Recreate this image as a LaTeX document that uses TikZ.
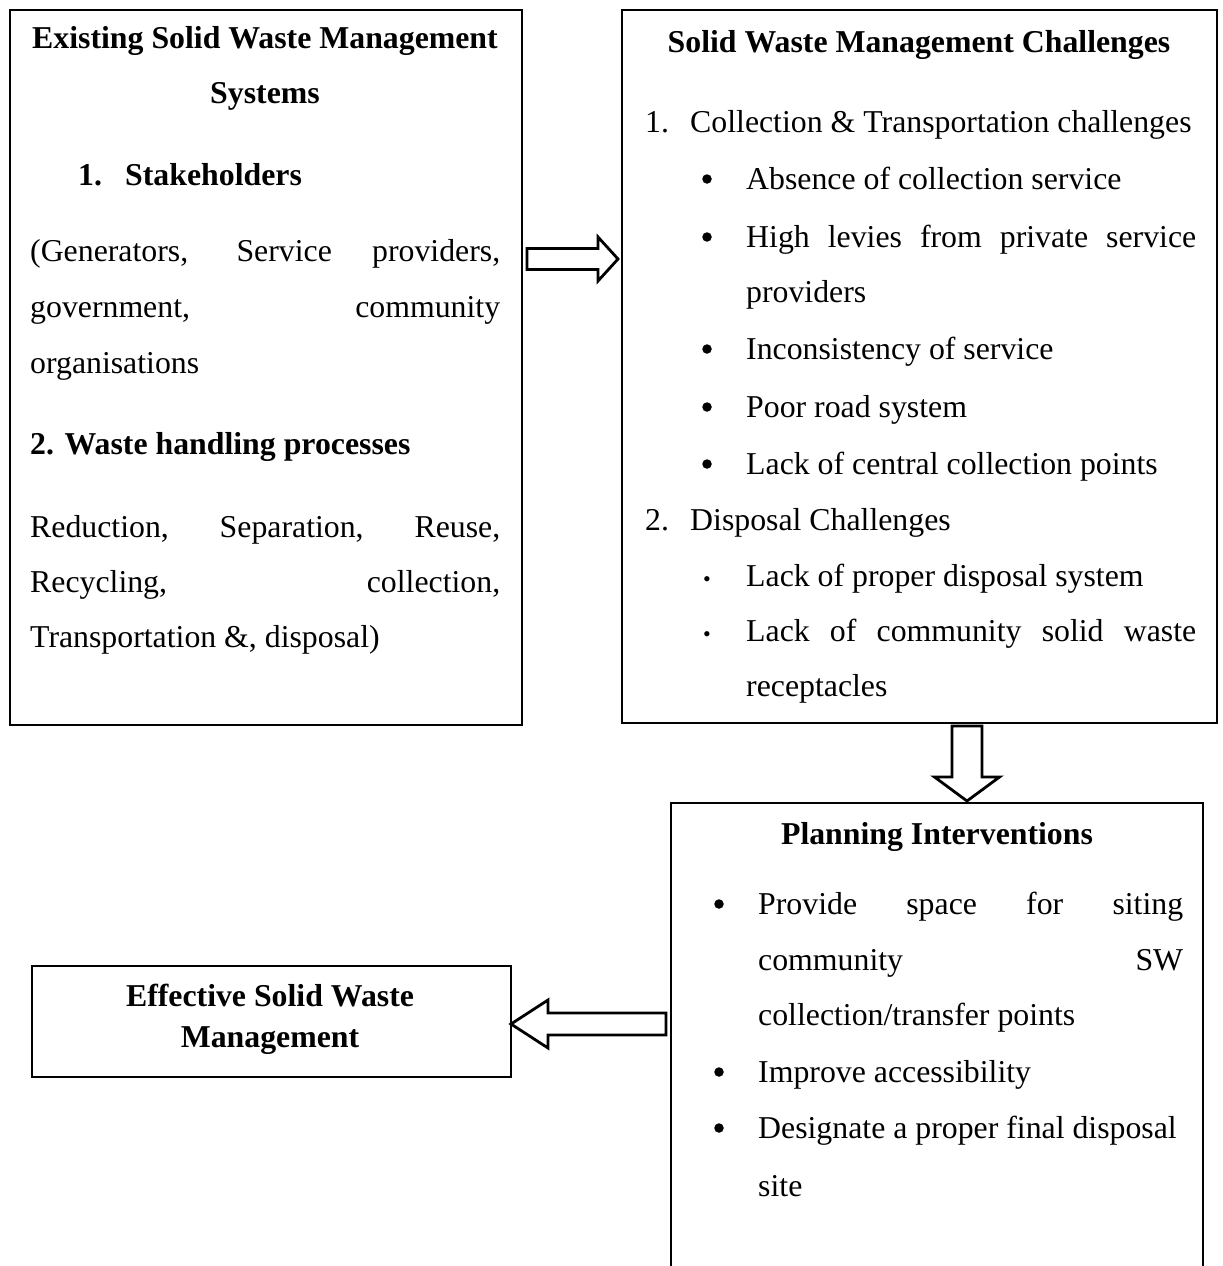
\documentclass[tikz,border=0pt]{standalone}
\usepackage{fontspec}
\setmainfont{Liberation Serif}
\begin{document}
\begin{tikzpicture}[x=1pt,y=-1pt,
  font=\fontsize{31.8}{56}\selectfont,
  box/.style={draw, line width=2pt, inner sep=0pt, anchor=north west},
  txt/.style={anchor=base west, inner sep=0pt},
  ctr/.style={anchor=base, inner sep=0pt},
  bul/.style={anchor=base, inner sep=0pt},
  dot/.style={circle, fill, inner sep=0pt, minimum size=9.5pt},
  hd/.style={font=\fontsize{31.8}{56}\selectfont\bfseries},
  blockarrow/.style={draw, line width=2.8pt, fill=white, line join=miter}]
\useasboundingbox (0,0) rectangle (1223,1266);
\newcommand{\jline}[2]{\makebox[#1][s]{#2}}
\newcommand{\smallbul}{{\fontsize{22}{22}\selectfont\textbullet}}

% boxes
\node[box, minimum width=512pt, minimum height=715pt] (exist) at (9,9) {};
\node[box, minimum width=595pt, minimum height=713pt] (chall) at (621,9) {};
\node[box, minimum width=479pt, minimum height=111pt] (eff) at (31,965) {};
\node[inner sep=0pt, anchor=north west, minimum width=532pt, minimum height=480pt] (plan) at (671,803) {};
\draw[line width=2pt] (plan.south west) -- (plan.north west) -- (plan.north east) -- (plan.south east);

% box 1 text
\node[ctr, hd] (e1) at (265,48) {Existing Solid Waste Management};
\node[ctr, hd] (e2) at (265,103) {Systems};
\node[txt, hd] (e3n) at (78,185) {1.};
\node[txt, hd] (e3) at (125,185) {Stakeholders};
\node[txt] (e4) at (30,261) {\jline{470pt}{(Generators, Service providers,}};
\node[txt] (e5) at (30,317) {\jline{470pt}{government, community}};
\node[txt] (e6) at (30,373) {organisations};
\node[txt, hd] (e7) at (30,454) {2. Waste handling processes};
\node[txt] (e8) at (30,537) {\jline{470pt}{Reduction, Separation, Reuse,}};
\node[txt] (e9) at (30,592) {\jline{470pt}{Recycling, collection,}};
\node[txt] (e10) at (30,647) {Transportation \&, disposal)};

% box 2 text
\node[ctr, hd] (c0) at (919,52) {Solid Waste Management Challenges};
\node[txt] (c1n) at (645,132) {1.};
\node[txt] (c1) at (690,132) {Collection \& Transportation challenges};
\node[dot] (cb1) at (707,179) {};
\node[txt] (c2) at (746,189) {Absence of collection service};
\node[dot] (cb2) at (707,237) {};
\node[txt] (c3) at (746,247) {\jline{450pt}{High levies from private service}};
\node[txt] (c4) at (746,302) {providers};
\node[dot] (cb3) at (707,349) {};
\node[txt] (c5) at (746,359) {Inconsistency of service};
\node[dot] (cb4) at (707,407) {};
\node[txt] (c6) at (746,417) {Poor road system};
\node[dot] (cb5) at (707,464) {};
\node[txt] (c7) at (746,474) {Lack of central collection points};
\node[txt] (c8n) at (645,530) {2.};
\node[txt] (c8) at (690,530) {Disposal Challenges};
\node[bul] (cb6) at (707,586) {\smallbul};
\node[txt] (c9) at (746,586) {Lack of proper disposal system};
\node[bul] (cb7) at (707,641) {\smallbul};
\node[txt] (c10) at (746,641) {\jline{450pt}{Lack of community solid waste}};
\node[txt] (c11) at (746,696) {receptacles};

% planning text
\node[ctr, hd] (p0) at (937,844) {Planning Interventions};
\node[dot] (pb1) at (719,904) {};
\node[txt] (p1) at (758,914) {\jline{425pt}{Provide space for siting}};
\node[txt] (p2) at (758,970) {\jline{425pt}{community SW}};
\node[txt] (p3) at (758,1025) {collection/transfer points};
\node[dot] (pb2) at (719,1072) {};
\node[txt] (p4) at (758,1082) {Improve accessibility};
\node[dot] (pb3) at (719,1128) {};
\node[txt] (p5) at (758,1138) {Designate a proper final disposal};
\node[txt] (p6) at (758,1196) {site};

% effective text
\node[ctr, hd] (f1) at (270,1006) {Effective Solid Waste};
\node[ctr, hd] (f2) at (270,1047) {Management};

% block arrows
\draw[blockarrow] (527,248.5) -- (598,248.5) -- (598,237) -- (618,259) -- (598,281) -- (598,269.5) -- (527,269.5) -- cycle;
\draw[blockarrow] (952,726) -- (982,726) -- (982,777) -- (999.5,777) -- (967,801) -- (934.5,777) -- (952,777) -- cycle;
\draw[blockarrow] (666,1013) -- (548,1013) -- (548,1000) -- (511,1024) -- (548,1048) -- (548,1035) -- (666,1035) -- cycle;
\end{tikzpicture}
\end{document}
